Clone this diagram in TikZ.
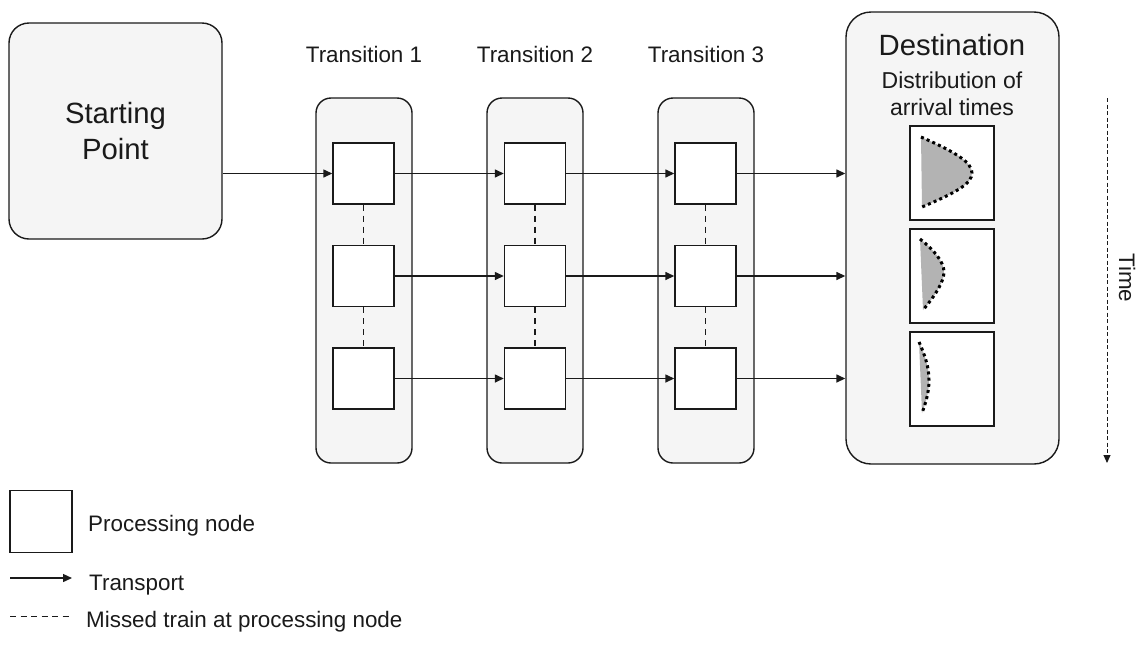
\documentclass[tikz,border=0pt]{standalone}
\usepackage{fontspec}
\setmainfont{Liberation Sans}
\usetikzlibrary{arrows.meta}
\definecolor{panel}{HTML}{F5F5F5}
\definecolor{ink}{HTML}{1A1A1A}
\definecolor{distfill}{HTML}{B3B3B3}
\begin{document}
\begin{tikzpicture}[x=1pt,y=-1pt,
  container/.style={draw=ink, line width=1.4pt, fill=panel, rounded corners=15pt,
    minimum width=96pt, minimum height=365pt, inner sep=0pt},
  procbox/.style={draw=ink, line width=1.4pt, fill=white, minimum size=61pt, inner sep=0pt},
  distbox/.style={draw=ink, line width=1.4pt, fill=white, minimum width=84pt,
    minimum height=94pt, inner sep=0pt},
  arr/.style={draw=ink, line width=1.4pt, -{Triangle[length=9pt,width=8pt]}},
  missed/.style={draw=ink, line width=1.2pt, dash pattern=on 6pt off 5pt},
  lbl/.style={font=\fontsize{22.4}{26}\selectfont, text=ink, inner sep=0pt},
  biglbl/.style={font=\fontsize{29.3}{35.3}\selectfont, text=ink, inner sep=0pt},
  distcurve/.style={draw=black, line width=3pt, dash pattern=on 3pt off 3.2pt},
]
\useasboundingbox (0,0) rectangle (1137,646);
\clip (0,0) rectangle (1137,646);

% starting point
\node[container, minimum width=213pt, minimum height=216pt, rounded corners=20pt,
      biglbl, align=center] (start) at (115.5,131) {Starting\\Point};

% transition containers
\node[container] (t1box) at (364,280.5) {};
\node[container] (t2box) at (535,280.5) {};
\node[container] (t3box) at (706,280.5) {};

\node[lbl, anchor=base] (t1lbl) at (364,62.3) {Transition 1};
\node[lbl, anchor=base] (t2lbl) at (535,62.3) {Transition 2};
\node[lbl, anchor=base] (t3lbl) at (706,62.3) {Transition 3};

% destination
\node[container, minimum width=213pt, minimum height=452pt, rounded corners=25pt]
      (dest) at (952.5,238) {};
\node[biglbl, anchor=base] (desttitle) at (952,55) {Destination};
\node[font=\fontsize{23}{27}\selectfont, text=ink, inner sep=0pt, anchor=base]
      (distA) at (952,88.3) {Distribution of};
\node[font=\fontsize{23}{27}\selectfont, text=ink, inner sep=0pt, anchor=base]
      (distB) at (952,115) {arrival times};

% processing nodes
\foreach \c/\x in {1/363.5,2/535,3/705.5}{
  \foreach \r/\y in {1/173.5,2/276,3/378.5}{
    \node[procbox] (s\c\r) at (\x,\y) {};
  }
}

% distribution boxes
\node[distbox] (d1) at (952,173) {};
\node[distbox] (d2) at (952,276) {};
\node[distbox] (d3) at (952,379) {};

\fill[distfill] (921,137) .. controls (955,152) and (972,162) .. (972,173)
   .. controls (972,184) and (955,193) .. (922,207) -- cycle;
\draw[distcurve] (921,137) .. controls (955,152) and (972,162) .. (972,173)
   .. controls (972,184) and (955,193) .. (922,207);
\fill[distfill] (920,239) .. controls (934,250) and (944,262) .. (944,272)
   .. controls (944,282) and (934,297) .. (923,310) -- cycle;
\draw[distcurve] (920,239) .. controls (934,250) and (944,262) .. (944,272)
   .. controls (944,282) and (934,297) .. (923,310);
\fill[distfill] (919,342) .. controls (925,355) and (929,368) .. (929,380)
   .. controls (929,392) and (926,402) .. (922,413) -- cycle;
\draw[distcurve] (919,342) .. controls (925,355) and (929,368) .. (929,380)
   .. controls (929,392) and (926,402) .. (922,413);

% missed trains
\foreach \c in {1,2,3}{
  \draw[missed] (s\c1.south) -- (s\c2.north);
  \draw[missed] (s\c2.south) -- (s\c3.north);
}

% transport
\draw[arr] (start.east |- s11.west) -- (s11.west);
\foreach \r in {1,2,3}{
  \draw[arr] (s1\r.east) -- (s2\r.west);
  \draw[arr] (s2\r.east) -- (s3\r.west);
  \draw[arr] (s3\r.east) -- (dest.west |- s3\r.east);
}

% time axis
\coordinate (timetop) at (1107,98);
\coordinate (timebot) at (1107,463);
\draw[draw=ink, line width=1pt, dash pattern=on 4pt off 2.5pt,
      -{Triangle[length=8pt,width=7pt]}] (timetop) -- (timebot);
\node[lbl, rotate=-90, anchor=base west] (timelbl) at (1119,253) {Time};

% legend
\node[procbox, minimum size=62pt] (lsq) at (41,521.5) {};
\node[lbl, anchor=base west] (lsqlbl) at (88,531) {Processing node};
\coordinate (la1) at (10,578);
\coordinate (la2) at (72,578);
\draw[arr] (la1) -- (la2);
\node[lbl, anchor=base west] (lalbl) at (89,590) {Transport};
\coordinate (lm1) at (10,616);
\coordinate (lm2) at (72,616);
\draw[draw=ink, line width=0.9pt, dash pattern=on 6pt off 4.5pt] (lm1) -- (lm2);
\node[lbl, anchor=base west] (lmlbl) at (86,627) {Missed train at processing node};
\end{tikzpicture}
\end{document}
